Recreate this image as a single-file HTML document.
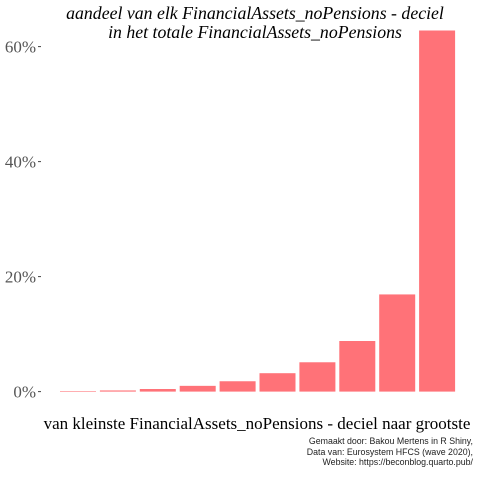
<!DOCTYPE html>
<html><head><meta charset="utf-8"><style>
body{margin:0;background:#fff}
svg text{font-family:"Liberation Serif",serif}
</style></head><body>
<svg width="480" height="480">
<g id="title">
<text x="255" y="19" font-size="17.8" font-style="italic" text-anchor="middle" fill="#000">aandeel van elk FinancialAssets_noPensions - deciel</text>
<text x="255" y="38" font-size="17.8" font-style="italic" text-anchor="middle" fill="#000">in het totale FinancialAssets_noPensions</text>
</g>
<g id="yaxis"></g>
<g id="bars"></g>
<text x="257" y="429" font-size="17" text-anchor="middle" fill="#000">van kleinste FinancialAssets_noPensions - deciel naar grootste</text>
<g font-size="8.8" text-anchor="end" fill="#222">
<text x="473" y="444" style="font-family:'Liberation Sans',sans-serif">Gemaakt door: Bakou Mertens in R Shiny,</text>
<text x="473" y="455" style="font-family:'Liberation Sans',sans-serif">Data van: Eurosystem HFCS (wave 2020),</text>
<text x="473" y="465" style="font-family:'Liberation Sans',sans-serif">Website: https://beconblog.quarto.pub/</text>
</g>
</svg>
<script>
const categories=["D1","D2","D3","D4","D5","D6","D7","D8","D9","D10"];
const values=[0.1,0.2,0.45,1.0,1.8,3.2,5.1,8.8,16.9,62.8];
const yTicks=[0,20,40,60];
const tickLabels=["0%","20%","40%","60%"];
const NS="http://www.w3.org/2000/svg";
const y0=391.6,pxPer=5.75;
const ys=v=>y0-v*pxPer;
const xs=i=>60+i*39.9;
const bw=36;
const bars=document.getElementById('bars');
values.forEach((v,i)=>{
 const r=document.createElementNS(NS,'rect');
 r.setAttribute('x',xs(i));r.setAttribute('y',ys(v));
 r.setAttribute('width',bw);r.setAttribute('height',y0-ys(v));
 r.setAttribute('fill','#FF7278');
 
 
 bars.appendChild(r);
});
const ya=document.getElementById('yaxis');
yTicks.forEach((t,i)=>{
 const tx=document.createElementNS(NS,'text');
 tx.setAttribute('x',36);tx.setAttribute('y',ys(t)+6);
 tx.setAttribute('text-anchor','end');tx.setAttribute('font-size','17');tx.setAttribute('fill','#555');
 tx.textContent=tickLabels[i];
 
 
 ya.appendChild(tx);
 const l=document.createElementNS(NS,'line');
 l.setAttribute('x1',38);l.setAttribute('x2',41);l.setAttribute('y1',ys(t));l.setAttribute('y2',ys(t));
 l.setAttribute('stroke','#444');
 
 
 ya.appendChild(l);
});
</script>
</body></html>
